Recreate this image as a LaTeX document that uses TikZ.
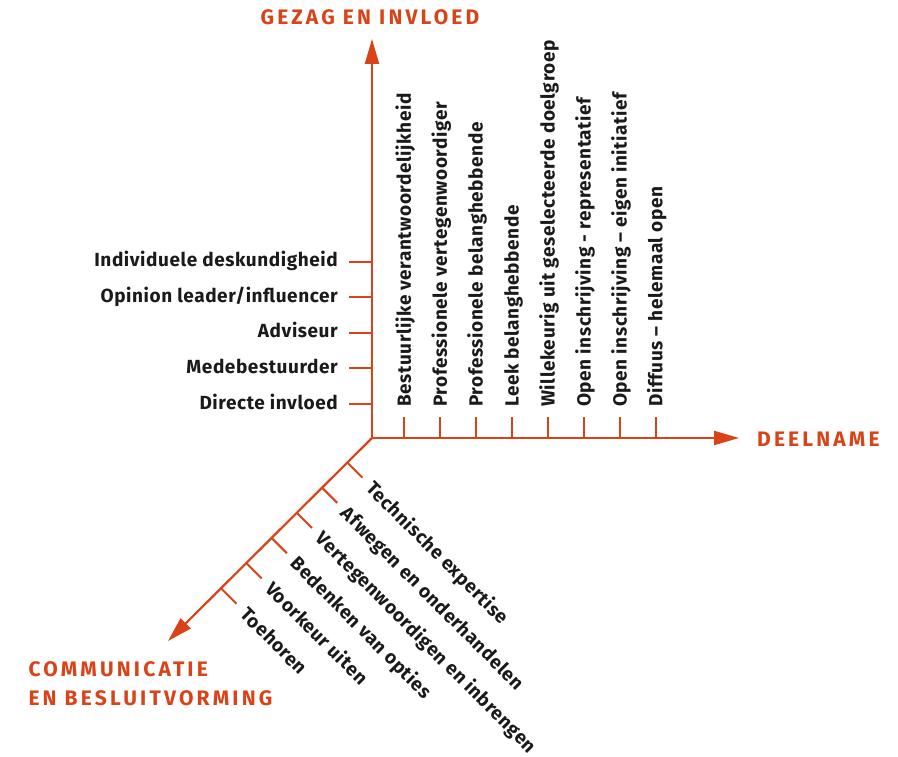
\documentclass[tikz,border=0pt]{standalone}
\usepackage{fontspec}
\setmainfont{Fira Sans}
\usetikzlibrary{arrows.meta}
\definecolor{axisorange}{RGB}{216,67,24}
\definecolor{ink}{RGB}{26,26,26}
\begin{document}
\begin{tikzpicture}[x=1pt,y=-1pt,
  axis/.style={draw=axisorange, line width=2.2pt, -{Triangle[length=25pt,width=14pt]}},
  tickline/.style={draw=axisorange, line width=2pt},
  lbl/.style={font=\bfseries\fontsize{19}{22}\selectfont\addfontfeatures{LetterSpace=3}, text=ink, inner sep=0pt},
  ttl/.style={font=\bfseries\fontsize{21}{28}\selectfont\addfontfeatures{LetterSpace=15}, text=axisorange, inner sep=0pt},
]
\useasboundingbox (0,0) rectangle (898,757);

% axes
\coordinate (O) at (372,438);
\coordinate (Ytip) at (372,39);
\coordinate (Xtip) at (739,438);
\coordinate (Dtip) at (168,641);
\draw[axis] (O) -- (Ytip);
\draw[axis] (O) -- (Xtip);
\draw[axis] (O) -- (Dtip);

% axis titles
\node[ttl, anchor=base] (ttlY) at (370,25) {GEZAG EN INVLOED};
\node[ttl, anchor=base west] (ttlX) at (757,446) {DEELNAME};
\node[ttl, anchor=base west] (ttlD1) at (28.3,676.7) {COMMUNICATIE};
\node[ttl, anchor=base west] (ttlD2) at (28.3,705) {EN BESLUITVORMING};

% vertical axis: ticks to the left, labels right-aligned
\foreach \lab [count=\k] in {Directe invloed, Medebestuurder, Adviseur,
    Opinion leader/influencer, Individuele deskundigheid} {
  \pgfmathsetmacro{\ty}{404-35.6*(\k-1)}
  \coordinate (v\k) at (372,\ty);
  \coordinate (v\k e) at (349,\ty);
  \draw[tickline] (v\k) -- (v\k e);
  \node[lbl, anchor=base east] (vl\k) at (338,\ty+5) {\lab};
}

% horizontal axis: ticks upwards, labels rotated
\foreach \lab [count=\k] in {Bestuurlijke verantwoordelijkheid,
    Professionele vertegenwoordiger, Professionele belanghebbende,
    Leek belanghebbende, Willekeurig uit geselecteerde doelgroep,
    Open inschrijving - representatief, Open inschrijving – eigen initiatief,
    Diffuus – helemaal open} {
  \pgfmathsetmacro{\tx}{404.3+35.95*(\k-1)}
  \coordinate (h\k) at (\tx,438);
  \coordinate (h\k e) at (\tx,417);
  \draw[tickline] (h\k) -- (h\k e);
  \node[lbl, rotate=90, anchor=base west] (hl\k) at (\tx+6.5,407) {\lab};
}

% diagonal axis: ticks down-right, labels along the ticks
\foreach \lab [count=\k] in {Technische expertise, Afwegen en onderhandelen,
    Vertegenwoordigen en inbrengen, Bedenken van opties, Voorkeur uiten,
    Toehoren} {
  \pgfmathsetmacro{\dd}{24.6+25.2*(\k-1)}
  \coordinate (d\k) at (372-\dd,438+\dd);
  \coordinate (d\k e) at (387-\dd,453+\dd);
  \draw[tickline] (d\k) -- (d\k e);
  \node[lbl, rotate=-45, anchor=base west] (dl\k) at (389.5-\dd,464.6+\dd) {\lab};
}
\end{tikzpicture}
\end{document}
